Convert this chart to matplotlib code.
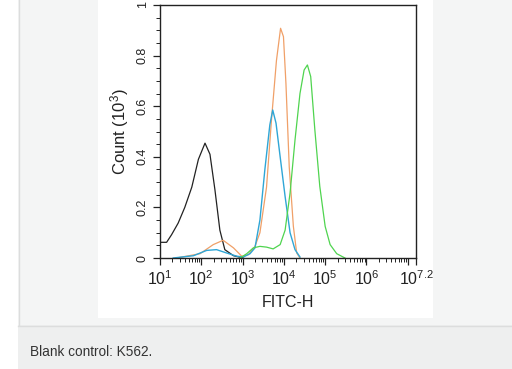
import numpy as np
import matplotlib
matplotlib.use("Agg")
import matplotlib.pyplot as plt
from matplotlib.patches import Rectangle
from matplotlib.lines import Line2D
from matplotlib.ticker import FixedLocator, FixedFormatter, LogLocator, NullFormatter, MultipleLocator

plt.rcParams['font.family'] = ['Liberation Sans', 'DejaVu Sans']
plt.rcParams['mathtext.fontset'] = 'custom'
plt.rcParams['mathtext.rm'] = 'Liberation Sans'
plt.rcParams['mathtext.it'] = 'Liberation Sans'

# ---- data (log10 of FITC-H, count in 10^3) ----
black_log = [1.0, 1.16, 1.28, 1.44, 1.6, 1.77, 1.93, 2.09, 2.21, 2.33, 2.45, 2.57, 2.78, 3.02]
black_cnt = [0.062, 0.062, 0.092, 0.138, 0.20, 0.28, 0.39, 0.454, 0.41, 0.27, 0.11, 0.033, 0.009, 0.0]

orange_log = [1.4, 1.97, 2.29, 2.53, 2.78, 2.98, 3.14, 3.30, 3.42, 3.58, 3.70, 3.82, 3.92, 3.99, 4.05, 4.13, 4.23, 4.31, 4.39]
orange_cnt = [0.0, 0.017, 0.053, 0.07, 0.04, 0.007, 0.013, 0.046, 0.10, 0.28, 0.546, 0.78, 0.908, 0.875, 0.69, 0.36, 0.125, 0.02, 0.0]

blue_log = [1.32, 1.81, 2.13, 2.37, 2.61, 2.86, 3.02, 3.18, 3.30, 3.42, 3.54, 3.66, 3.73, 3.81, 3.91, 4.03, 4.15, 4.27, 4.39]
blue_cnt = [0.0, 0.009, 0.03, 0.033, 0.02, 0.007, 0.004, 0.017, 0.04, 0.15, 0.35, 0.526, 0.585, 0.533, 0.40, 0.243, 0.10, 0.033, 0.004]

green_log = [2.94, 3.10, 3.26, 3.42, 3.58, 3.74, 3.91, 4.03, 4.15, 4.27, 4.39, 4.49, 4.57, 4.65, 4.75, 4.87, 5.0, 5.12, 5.28, 5.48]
green_cnt = [0.0, 0.017, 0.04, 0.046, 0.043, 0.036, 0.053, 0.11, 0.257, 0.467, 0.65, 0.743, 0.763, 0.717, 0.507, 0.283, 0.125, 0.053, 0.017, 0.0]

x_tick_exp = [1, 2, 3, 4, 5, 6, 7, 7.2]
x_tick_labels = [r'$10^{1}$', r'$10^{2}$', r'$10^{3}$', r'$10^{4}$', r'$10^{5}$', r'$10^{6}$', '', r'$10^{7.2}$']
y_ticks = [0, 0.2, 0.4, 0.6, 0.8, 1]
y_tick_labels = ['0', '0.2', '0.4', '0.6', '0.8', '1']
caption = "Blank control: K562."

W, H = 512, 369
fig = plt.figure(figsize=(W / 100, H / 100), dpi=100, facecolor='#f4f5f5')

def px_rect(x0, y0, x1, y1, color):
    fig.patches.append(Rectangle((x0 / W, 1 - y1 / H), (x1 - x0) / W, (y1 - y0) / H,
                                 transform=fig.transFigure, facecolor=color, edgecolor='none', zorder=-5))

px_rect(0, 0, 18, 369, 'white')
px_rect(98, 0, 433, 318, 'white')
px_rect(18, 325, 512, 369, '#eeefef')
fig.lines.append(Line2D([18.5 / W, 18.5 / W], [1 - 325 / H, 1], transform=fig.transFigure, color='#dcdddd', lw=1, zorder=-4))
fig.lines.append(Line2D([18 / W, 1], [1 - 325.5 / H, 1 - 325.5 / H], transform=fig.transFigure, color='#dcdddd', lw=1, zorder=-4))

fig.text(30 / W, 1 - 352 / H, caption, fontsize=9.8, color='#333333', va='center', ha='left')

ax = fig.add_axes([160 / W, 1 - 258 / H, 256 / W, 253 / H])
ax.set_zorder(5)
ax.set_facecolor('white')

def tolin(l):
    return [10 ** v for v in l]

ax.plot(tolin(black_log), black_cnt, color='#222222', lw=0.9)
ax.plot(tolin(orange_log), orange_cnt, color='#f0a068', lw=0.9)
ax.plot(tolin(blue_log), blue_cnt, color='#2fa6d6', lw=1.0)
ax.plot(tolin(green_log), green_cnt, color='#4fd44f', lw=0.9)

ax.set_xscale('log')
ax.set_xlim(10, 10 ** 7.2)
ax.set_ylim(0, 1)

ax.xaxis.set_major_locator(FixedLocator([10 ** e for e in x_tick_exp]))
ax.xaxis.set_major_formatter(FixedFormatter(x_tick_labels))
ax.xaxis.set_minor_locator(LogLocator(base=10, subs=np.arange(2, 10), numticks=20))
ax.xaxis.set_minor_formatter(NullFormatter())

ax.yaxis.set_major_locator(FixedLocator(y_ticks))
ax.yaxis.set_major_formatter(FixedFormatter(y_tick_labels))
ax.yaxis.set_minor_locator(MultipleLocator(0.05))

ax.tick_params(axis='both', which='major', direction='out', length=5, width=0.9, color='#222222')
ax.tick_params(axis='both', which='minor', direction='out', length=3, width=0.7, color='#222222')
ax.tick_params(axis='x', labelsize=11.5, pad=3, colors='#222222')
ax.tick_params(axis='y', labelsize=9, pad=3, colors='#222222')
for lab in ax.get_yticklabels():
    lab.set_rotation(90)
    lab.set_va('center')

for s in ax.spines.values():
    s.set_color('#222222')
    s.set_linewidth(1.0)

ax.set_xlabel('FITC-H', fontsize=11.5, color='#222222', labelpad=5)
ax.set_ylabel(r'Count ($10^3$)', fontsize=12, color='#222222', labelpad=4)

fig.savefig('out.png', dpi=100, facecolor=fig.get_facecolor())
